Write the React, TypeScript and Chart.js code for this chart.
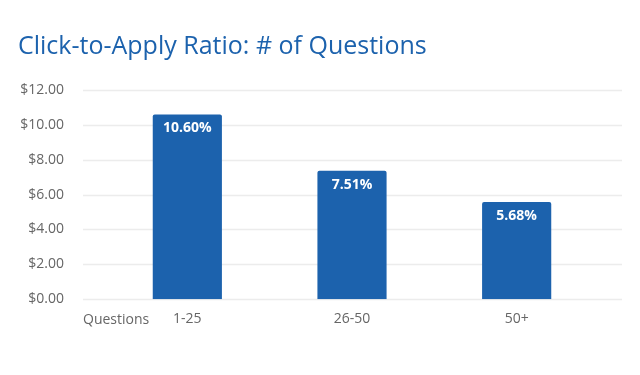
import React, { useEffect, useRef } from "react";
import { Chart, registerables } from "chart.js";

Chart.register(...registerables);

const titleText = "Click-to-Apply Ratio: # of Questions";
const axisLabel = "Questions";
const categories = ["1-25", "26-50", "50+"];
const values = [10.6, 7.37, 5.58];
const valueLabels = ["10.60%", "7.51%", "5.68%"];
const yMin = 0;
const yMax = 12;
const yStep = 2;

const BLUE = "#1c62ad";
const FONT = "'Open Sans', sans-serif";
const GRID_EXT_LEFT = 22;
const GRID_EXT_RIGHT = 23;
const TICK_PAD = 3;

export default function App() {
  const ref = useRef<HTMLCanvasElement | null>(null);

  useEffect(() => {
    if (!ref.current) return;

    const gridPlugin = {
      id: "extGrid",
      beforeDatasetsDraw(chart: any) {
        const { ctx, chartArea } = chart;
        const y = chart.scales.y;
        ctx.save();
        ctx.strokeStyle = "#ececec";
        ctx.lineWidth = 1.5;
        y.ticks.forEach((t: any) => {
          const py = Math.round(y.getPixelForValue(t.value)) + 0.5;
          ctx.beginPath();
          ctx.moveTo(chartArea.left - GRID_EXT_LEFT, py);
          ctx.lineTo(chartArea.right + GRID_EXT_RIGHT, py);
          ctx.stroke();
        });
        ctx.restore();
      },
      afterDatasetsDraw(chart: any) {
        const { ctx, chartArea } = chart;
        const meta = chart.getDatasetMeta(0);
        ctx.save();
        ctx.fillStyle = "#ffffff";
        ctx.font = `bold 14px ${FONT}`;
        ctx.textAlign = "center";
        ctx.textBaseline = "middle";
        meta.data.forEach((bar: any, i: number) => {
          ctx.fillText(valueLabels[i], bar.x, bar.y + 14);
        });
        const x = chart.scales.x;
        ctx.fillStyle = "#666666";
        ctx.font = `14px ${FONT}`;
        ctx.textAlign = "left";
        ctx.fillText(axisLabel, chartArea.left - GRID_EXT_LEFT, x.top + TICK_PAD + 17.5);
        ctx.restore();
      },
    };

    const chart = new Chart(ref.current, {
      type: "bar",
      data: {
        labels: categories,
        datasets: [
          {
            data: values,
            backgroundColor: BLUE,
            borderRadius: { topLeft: 2, topRight: 2, bottomLeft: 0, bottomRight: 0 },
            borderSkipped: "bottom",
            barPercentage: 0.42,
            categoryPercentage: 1,
          },
        ],
      },
      options: {
        animation: false,
        responsive: false,
        maintainAspectRatio: false,
        layout: { padding: { left: 18, right: 41, top: 32, bottom: 45 } },
        plugins: {
          legend: { display: false },
          tooltip: { enabled: false },
          title: {
            display: true,
            text: titleText,
            align: "start",
            color: BLUE,
            font: { family: FONT, size: 25, weight: "normal" },
            padding: { top: 0, bottom: 28 },
          },
        },
        scales: {
          x: {
            grid: { display: false },
            border: { display: false },
            ticks: {
              color: "#666666",
              font: { family: FONT, size: 14 },
              padding: TICK_PAD,
            },
            afterFit: (s: any) => {
              s.paddingLeft = 0;
              s.paddingRight = 0;
            },
          },
          y: {
            min: yMin,
            max: yMax,
            grid: { display: false, drawTicks: false },
            border: { display: false },
            ticks: {
              stepSize: yStep,
              color: "#666666",
              font: { family: FONT, size: 14 },
              padding: 41,
              callback: (v: any) => "$" + Number(v).toFixed(2),
            },
            afterFit: (s: any) => {
              s.width = 87;
            },
          },
        },
      },
      plugins: [gridPlugin],
    });

    return () => chart.destroy();
  }, []);

  return (
    <div style={{ position: "absolute", left: 0, top: 0, width: 640, height: 375, background: "#fff" }}>
      <canvas ref={ref} width={640} height={375} style={{ display: "block" }} />
    </div>
  );
}
